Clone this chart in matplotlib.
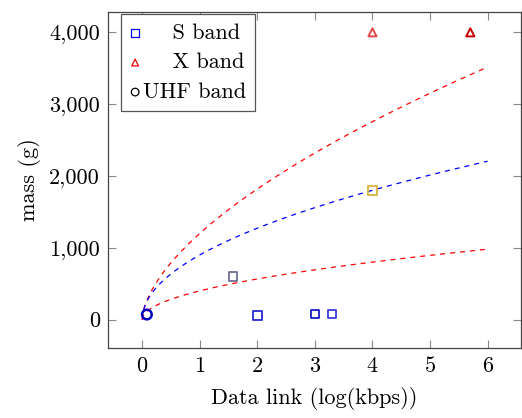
import numpy as np
import matplotlib
matplotlib.use("Agg")
import matplotlib.pyplot as plt
from matplotlib.ticker import FuncFormatter

plt.rcParams['font.family'] = 'cmr10'
plt.rcParams['axes.formatter.use_mathtext'] = True
plt.rcParams['font.size'] = 16

# S band points (log kbps, grams) and their marker colours
s_x = [1.58, 2.0, 3.0, 3.3, 4.0]
s_y = [600, 60, 75, 75, 1800]
s_col = ['#6e6e92', '#2828d4', '#1a1ac8', '#3c3ce0', '#d6b43a']

# X band points
x_x = [4.0, 5.7]
x_y = [4000, 4000]
x_col = ['#e04848', '#c80000']

# UHF band point
u_x = [0.08]
u_y = [70]

# fitted trend curves: coefficient, exponent, colour
fit_coef = [1200, 900, 400]
fit_exp = [0.6, 0.5, 0.5]
fit_col = ['red', 'blue', 'red']

fig = plt.figure(figsize=(5.22, 4.18), dpi=100)
ax = fig.add_axes([0.2075, 0.168, 0.7905, 0.8033])

xs = np.linspace(0, 6, 300)
for c, e, col in zip(fit_coef, fit_exp, fit_col):
    ax.plot(xs, c * xs ** e, linestyle=(0, (4, 4)), color=col, lw=0.9)

ax.scatter(s_x, s_y, marker='s', s=38, facecolors='none',
           edgecolors=s_col, linewidths=1.3, zorder=3)
ax.scatter(x_x, x_y, marker='^', s=34, facecolors='none',
           edgecolors=x_col, linewidths=1.4, zorder=3)
ax.scatter(u_x, u_y, marker='o', s=48, facecolors='none',
           edgecolors='#0000c0', linewidths=1.8, zorder=3)

# legend handles
hs = ax.scatter([], [], marker='s', s=30, facecolors='none', edgecolors='blue', linewidths=0.9)
hx = ax.scatter([], [], marker='^', s=24, facecolors='none', edgecolors='red', linewidths=0.9)
hu = ax.scatter([], [], marker='o', s=30, facecolors='none', edgecolors='black', linewidths=0.9)
leg = ax.legend([hs, hx, hu], ['    S band', '    X band', 'UHF band'],
                loc='upper left', bbox_to_anchor=(0.03, 0.993), fancybox=False,
                edgecolor='#555555', framealpha=1, handlelength=0.5,
                handletextpad=0.1, borderpad=0.4, labelspacing=0.45,
                borderaxespad=0.0)
leg.get_frame().set_linewidth(0.9)

ax.set_xlim(-0.59, 6.58)
ax.set_ylim(-393, 4283)
ax.set_xticks(range(0, 7))
ax.set_yticks([0, 1000, 2000, 3000, 4000])
ax.yaxis.set_major_formatter(FuncFormatter(lambda v, p: f"{int(v):,}"))
ax.tick_params(direction='in', length=5.5, width=0.8, color='#888888',
               top=True, right=True, pad=6)
for sp in ax.spines.values():
    sp.set_color('#444444')
    sp.set_linewidth(0.9)

ax.set_xlabel('Data link (log(kbps))', labelpad=8)
ax.set_ylabel('mass (g)', labelpad=6)

fig.savefig('out.png', dpi=100)
